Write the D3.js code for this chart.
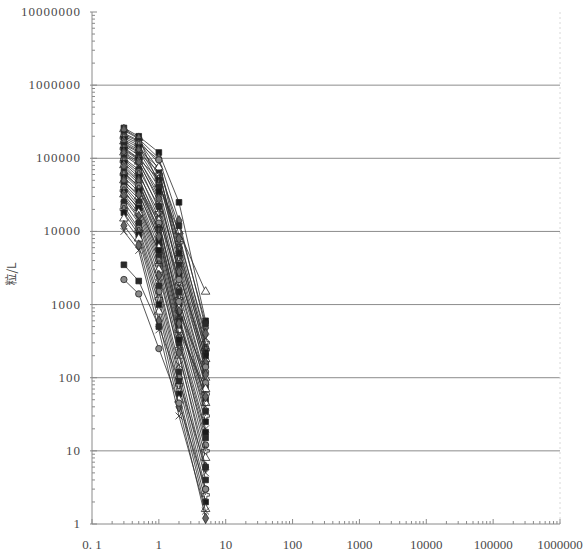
<!DOCTYPE html>
<html>
<head>
<meta charset="utf-8">
<script src="https://cdn.jsdelivr.net/npm/d3@7"></script>
<style>
  body { margin: 0; background: #fff; }
  svg { display: block; }
</style>
</head>
<body>
<div id="chart"></div>
<script>
// particle sizes (x) and tick labels
const sizes = [0.3, 0.5, 1, 2, 5];
const xTicks = [0.1, 1, 10, 100, 1000, 10000, 100000, 1000000];
const xTickLabels = ["0. 1", "1", "10", "100", "1000", "10000", "100000", "1000000"];
const yTicks = [1, 10, 100, 1000, 10000, 100000, 1000000, 10000000];
const yTickLabels = ["1", "10", "100", "1000", "10000", "100000", "1000000", "10000000"];

// counts per sample at 0.3, 0.5, 1, 2, 5
const upper = [
  [260000, 200000, 120000, 25000, 600],
  [250000, 190000, 44000, 10000, 1500],
  [240000, 185000, 100000, 14000, 480],
  [220000, 175000, 85000, 9000, 350],
  [210000, 170000, 70000, 12000, 550],
  [200000, 160000, 95000, 6000, 260],
  [190000, 150000, 60000, 7000, 300],
  [180000, 140000, 50000, 5000, 220],
  [170000, 130000, 75000, 4000, 180],
  [160000, 125000, 45000, 8000, 400],
  [155000, 120000, 65000, 5500, 280]
];
const middle = [
  [150000, 110000, 40000, 3500, 150],
  [140000, 100000, 30000, 3000, 120],
  [135000, 98000, 52000, 4500, 240],
  [130000, 95000, 35000, 2500, 200],
  [120000, 90000, 25000, 2000, 100],
  [115000, 85000, 28000, 2800, 160],
  [110000, 80000, 20000, 1800, 90],
  [100000, 70000, 22000, 1500, 75],
  [95000, 65000, 15000, 2200, 140],
  [90000, 60000, 18000, 1200, 60],
  [85000, 55000, 12000, 1000, 50],
  [80000, 50000, 14000, 900, 45],
  [75000, 48000, 10000, 800, 110],
  [70000, 45000, 9000, 700, 40],
  [65000, 40000, 8000, 600, 35],
  [62000, 42000, 13000, 1100, 85],
  [60000, 38000, 11000, 650, 30],
  [55000, 35000, 7000, 500, 25],
  [50000, 30000, 6000, 450, 70],
  [48000, 32000, 8500, 550, 55],
  [45000, 28000, 5000, 400, 20]
];
const lower = [
  [42000, 25000, 4500, 300, 15],
  [40000, 22000, 4000, 350, 12],
  [36000, 20000, 3500, 250, 10],
  [34000, 21000, 5500, 330, 18],
  [32000, 18000, 3000, 200, 8],
  [30000, 16000, 2500, 220, 6],
  [28000, 15000, 2000, 150, 5],
  [25000, 13000, 1800, 120, 4],
  [22000, 11000, 1500, 100, 3],
  [20000, 10000, 1200, 80, 2.5],
  [18000, 9000, 1000, 60, 2],
  [15000, 8000, 800, 50, 1.6],
  [12000, 6500, 600, 40, 1.2],
  [10000, 5500, 450, 30, 1.5]
];
const outliers = [
  [3500, 2100, 500, 90, 6],
  [2200, 1400, 250, 45, 3]
];

const series = upper.concat(middle, lower, outliers);

const margin = {top: 12, right: 26, bottom: 31, left: 92},
width = 586 - margin.left - margin.right,
height = 555 - margin.top - margin.bottom;

const svg = d3.select("#chart")
.append("svg")
.attr("width", 586)
.attr("height", 555)
.append("g")
.attr("transform", `translate(${margin.left}, ${margin.top})`);

const x = d3.scaleLog().domain([0.1, 1000000]).range([0, width]);
const y = d3.scaleLog().domain([1, 10000000]).range([height, 0]);

const axisColor = "#8a8a8a";
const textColor = "#4a4a4a";

// gridlines
svg.append("g")
.selectAll("line")
.data(yTicks.slice(1, -1))
.join("line")
  .attr("x1", 0)
  .attr("x2", width)
  .attr("y1", d => y(d))
  .attr("y2", d => y(d))
  .attr("stroke", "#8c8c8c")
  .attr("stroke-width", 1);

// faint right border
svg.append("line")
.attr("x1", width).attr("x2", width)
.attr("y1", 0).attr("y2", height)
.attr("stroke", "#d8d8d8")
.attr("stroke-dasharray", "2,3");

// minor tick values
const xMinor = [];
xTicks.slice(0, -1).forEach(t => { for (let k = 2; k < 10; k++) xMinor.push(t * k); });
const yMinor = [];
yTicks.slice(0, -1).forEach(t => { for (let k = 2; k < 10; k++) yMinor.push(t * k); });

// X axis
const xAxis = svg.append("g").attr("transform", `translate(0, ${height})`);
xAxis.append("line").attr("x1", 0).attr("x2", width).attr("stroke", axisColor);
xAxis.selectAll(".minor").data(xMinor).join("line")
  .attr("x1", d => x(d)).attr("x2", d => x(d))
  .attr("y1", 0).attr("y2", -3)
  .attr("stroke", axisColor);
xAxis.selectAll(".major").data(xTicks).join("line")
  .attr("x1", d => x(d)).attr("x2", d => x(d))
  .attr("y1", 0).attr("y2", -5)
  .attr("stroke", axisColor);
xAxis.selectAll("text").data(xTicks).join("text")
  .attr("x", d => x(d))
  .attr("y", 25)
  .attr("text-anchor", "middle")
  .attr("font-family", "Liberation Serif, serif")
  .attr("font-size", 13)
  .attr("fill", textColor)
  .text((d, i) => xTickLabels[i]);

// Y axis
const yAxis = svg.append("g");
yAxis.append("line").attr("y1", 0).attr("y2", height).attr("stroke", axisColor);
yAxis.selectAll(".minor").data(yMinor).join("line")
  .attr("y1", d => y(d)).attr("y2", d => y(d))
  .attr("x1", 0).attr("x2", 3)
  .attr("stroke", axisColor);
yAxis.selectAll(".major").data(yTicks).join("line")
  .attr("y1", d => y(d)).attr("y2", d => y(d))
  .attr("x1", -2).attr("x2", 5)
  .attr("stroke", axisColor);
yAxis.selectAll("text").data(yTicks).join("text")
  .attr("x", -11)
  .attr("y", d => y(d) + 4)
  .attr("text-anchor", "end")
  .attr("font-family", "Liberation Serif, serif")
  .attr("font-size", 13)
  .attr("letter-spacing", 1)
  .attr("fill", textColor)
  .text((d, i) => yTickLabels[i]);

// Y label
svg.append("text")
.attr("transform", `translate(${-76}, ${262}) rotate(-90)`)
.attr("text-anchor", "middle")
.attr("font-family", "Noto Sans CJK SC, sans-serif")
.attr("font-size", 12)
.attr("fill", textColor)
.text("粒/L");

// lines + markers
const shapes = [d3.symbolSquare, d3.symbolTriangle, d3.symbolDiamond, d3.symbolTimes || d3.symbolCross, d3.symbolSquare, d3.symbolCircle, d3.symbolCross];
const fills = ["#1a1a1a", "#8a8a8a", "#444", "#fff", "#b8b8b8", "#2a2a2a", "#666"];

const line = d3.line()
.x((d, i) => x(sizes[i]))
.y(d => y(d));

const groups = svg.append("g")
.selectAll("g")
.data(series)
.join("g");

groups.append("path")
  .attr("d", d => line(d))
  .attr("fill", "none")
  .attr("stroke", "#2e2e2e")
  .attr("stroke-width", 0.9)
  .attr("stroke-opacity", 0.9);

groups.each(function(d, si) {
  const shape = shapes[si % shapes.length];
  const fill = fills[(si * 3) % fills.length];
  const stroked = shape === d3.symbolTimes || shape === d3.symbolCross;
  d3.select(this).selectAll("path.pt")
    .data(d)
    .join("path")
    .attr("class", "pt")
    .attr("transform", (v, i) => `translate(${x(sizes[i])}, ${y(v)})`)
    .attr("d", d3.symbol().type(shape).size(32))
    .attr("fill", stroked ? "none" : fill)
    .attr("stroke", "#262626")
    .attr("stroke-width", 0.8);
});
</script>
</body>
</html>
